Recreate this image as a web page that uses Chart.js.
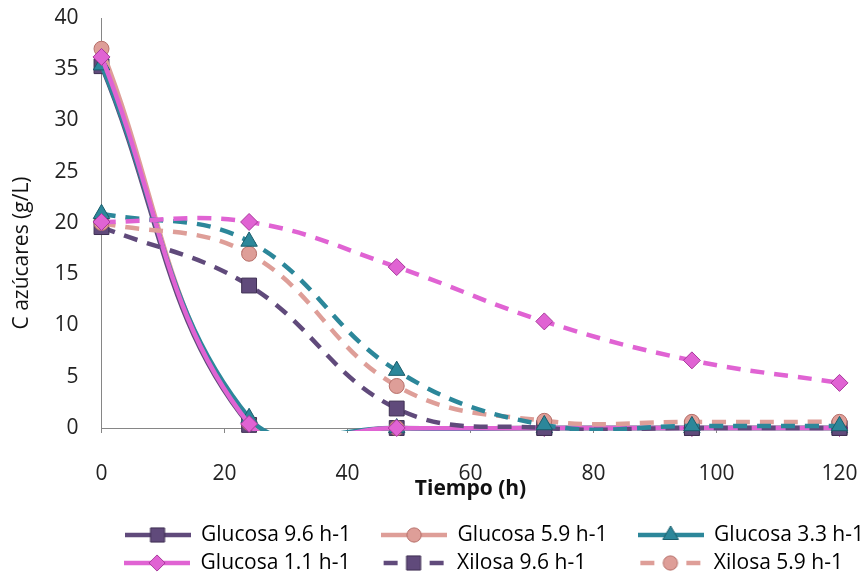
<!DOCTYPE html>
<html>
<head>
<meta charset="utf-8">
<script src="https://cdn.jsdelivr.net/npm/chart.js@4.4.1/dist/chart.umd.min.js"></script>
<style>
  html, body { margin: 0; padding: 0; background: #fff; }
</style>
</head>
<body>
<canvas id="myChart" width="861" height="578"></canvas>
<script>
// data (g/L of sugar vs time)
const timeHours = [0, 24, 48, 72, 96, 120];

const glucosa96 = [35.3, 0.3, 0, 0, 0, 0];
const glucosa59 = [37.0, 0.5, 0, 0, 0, 0];
const glucosa33 = [35.4, 1.0, 0, 0, 0, 0];
const glucosa11 = [36.2, 0.4, 0, 0, 0, 0];
const xilosa96 = [19.6, 13.9, 1.9, 0, 0, 0];
const xilosa59 = [20.0, 17.0, 4.1, 0.7, 0.6, 0.6];
const xilosa33 = [20.9, 18.2, 5.6, 0.3, 0.2, 0.2];
const xilosa11 = [20.1, 20.1, 15.7, 10.4, 6.6, 4.4];

const seriesNames = ['Glucosa 9.6 h-1', 'Glucosa 5.9 h-1', 'Glucosa 3.3 h-1', 'Glucosa 1.1 h-1',
                     'Xilosa 9.6 h-1', 'Xilosa 5.9 h-1', 'Xilosa 3.3 h-1', 'Xilosa 1.1 h-1'];
const seriesValues = [glucosa96, glucosa59, glucosa33, glucosa11, xilosa96, xilosa59, xilosa33, xilosa11];

const xAxisMax = 120, xStep = 20;
const yAxisMax = 40, yStep = 5;

const FONT = "'Open Sans', 'Liberation Sans', sans-serif";
const FS = 21;

const purple = '#604A7B', salmon = '#DE9E98', teal = '#2C879A', pink = '#E063D3';
const colors = [purple, salmon, teal, pink, purple, salmon, teal, pink];
const edges = ['#3E2F52', '#B66E68', '#1A5D6B', '#A8389B', '#3E2F52', '#B66E68', '#1A5D6B', '#A8389B'];
const shapes = ['rect', 'circle', 'triangle', 'rectRot', 'rect', 'circle', 'triangle', 'rectRot'];
const radii = [10.5, 7.5, 9.5, 8.5, 10.5, 7.5, 9.5, 8.5];

// one dataset for the smooth line (clipped to the plot), one for the markers
const datasets = [];
seriesNames.forEach((name, i) => {
  const pts = timeHours.map((t, k) => ({x: t, y: seriesValues[i][k]}));
  const dashed = i >= 4;
  datasets.push({
    label: name,
    data: pts,
    borderColor: colors[i],
    borderWidth: 4.5,
    borderDash: dashed ? [14, 10] : [],
    pointRadius: 0,
    tension: 0.4,
    clip: {left: 10, right: 10, top: 10, bottom: 3},
    order: 100 - 2 * i
  });
  datasets.push({
    label: name + ' marker',
    data: pts,
    showLine: false,
    pointStyle: shapes[i],
    pointRadius: radii[i],
    pointBackgroundColor: colors[i],
    pointBorderColor: edges[i],
    pointBorderWidth: 1,
    clip: false,
    order: 100 - 2 * i - 1
  });
});

// legend icons (line + marker) like the spreadsheet legend
function makeIcon(i) {
  const c = document.createElement('canvas');
  c.width = 66; c.height = 22;
  const g = c.getContext('2d');
  g.strokeStyle = colors[i];
  g.lineWidth = 4.5;
  g.beginPath();
  if (i >= 4) { g.moveTo(3, 11); g.lineTo(17, 11); g.moveTo(49, 11); g.lineTo(63, 11); }
  else { g.moveTo(0, 11); g.lineTo(66, 11); }
  g.stroke();
  g.fillStyle = colors[i];
  g.strokeStyle = edges[i];
  g.lineWidth = 1;
  if (Chart.helpers && Chart.helpers.drawPoint) {
    Chart.helpers.drawPoint(g, {pointStyle: shapes[i], radius: radii[i] * 0.95, borderWidth: 1, rotation: 0}, 33, 11);
  } else {
    g.beginPath(); g.arc(33, 11, 7, 0, Math.PI * 2); g.fill(); g.stroke();
  }
  return c;
}

// only the first six entries fit in the original legend
const legendCount = 6;
const measure = document.createElement('canvas').getContext('2d');
measure.font = FS + 'px ' + FONT;
function padTo(text, w) {
  let s = text, n = 0;
  while (measure.measureText(s).width < w && n < 300) { s += '\u200A'; n++; }
  return s;
}
const colW = 255 - 66 - FS / 2 - 7;
const col3W = Math.max(measure.measureText(seriesNames[2]).width, measure.measureText(seriesNames[5]).width);
const legendTexts = seriesNames.slice(0, legendCount).map((t, k) => padTo(t, (k % 3 === 2) ? col3W : colW));
const legendIcons = seriesNames.slice(0, legendCount).map((t, k) => makeIcon(k));

const yTitle = 'C azúcares (g/L)';
const nbspW = measure.measureText('\u00A0').width;
const yTitlePadded = yTitle + '\u00A0'.repeat(Math.round(62 / nbspW));

const ctx = document.getElementById('myChart');

new Chart(ctx, {
  type: 'line',
  data: { datasets: datasets },
  options: {
    responsive: false,
    animation: false,
    devicePixelRatio: 1,
    layout: { padding: { top: 0, right: -10, bottom: -5.5, left: 0 } },
    elements: { line: { capBezierPoints: false } },
    scales: {
      x: {
        type: 'linear',
        min: 0,
        max: xAxisMax,
        ticks: { stepSize: xStep, padding: 28, color: '#222', font: { family: FONT, size: FS } },
        grid: { drawOnChartArea: false, drawTicks: true, tickLength: 5, color: '#868686' },
        border: { color: '#868686', width: 1 },
        title: { display: true, text: 'Tiempo (h)', color: '#111', font: { family: FONT, size: FS, weight: 'bold' }, padding: { top: 0, bottom: 16 } },
        afterFit: (scale) => { scale.height = 89.5; scale.paddingRight = 21.5; }
      },
      y: {
        min: 0,
        max: yAxisMax,
        ticks: { stepSize: yStep, padding: 23, color: '#222', font: { family: FONT, size: FS } },
        grid: { drawOnChartArea: false, drawTicks: false, color: '#868686' },
        border: { color: '#868686', width: 1 },
        title: { display: true, text: yTitlePadded, color: '#111', font: { family: FONT, size: FS }, padding: { top: 9.4, bottom: 0 } },
        afterFit: (scale) => { scale.width = 101.5; scale.paddingTop = 18; }
      }
    },
    plugins: {
      tooltip: { enabled: false },
      legend: {
        display: true,
        position: 'bottom',
        align: 'end',
        labels: {
          usePointStyle: true,
          pointStyleWidth: 66,
          boxHeight: FS,
          padding: 7,
          color: '#000',
          font: { family: FONT, size: FS },
          generateLabels: () => legendTexts.map((t, k) => ({
            text: t,
            pointStyle: legendIcons[k],
            fillStyle: colors[k],
            strokeStyle: colors[k],
            lineWidth: 0,
            hidden: false,
            fontColor: '#000',
            datasetIndex: 2 * k
          }))
        }
      }
    }
  }
});
</script>
</body>
</html>
